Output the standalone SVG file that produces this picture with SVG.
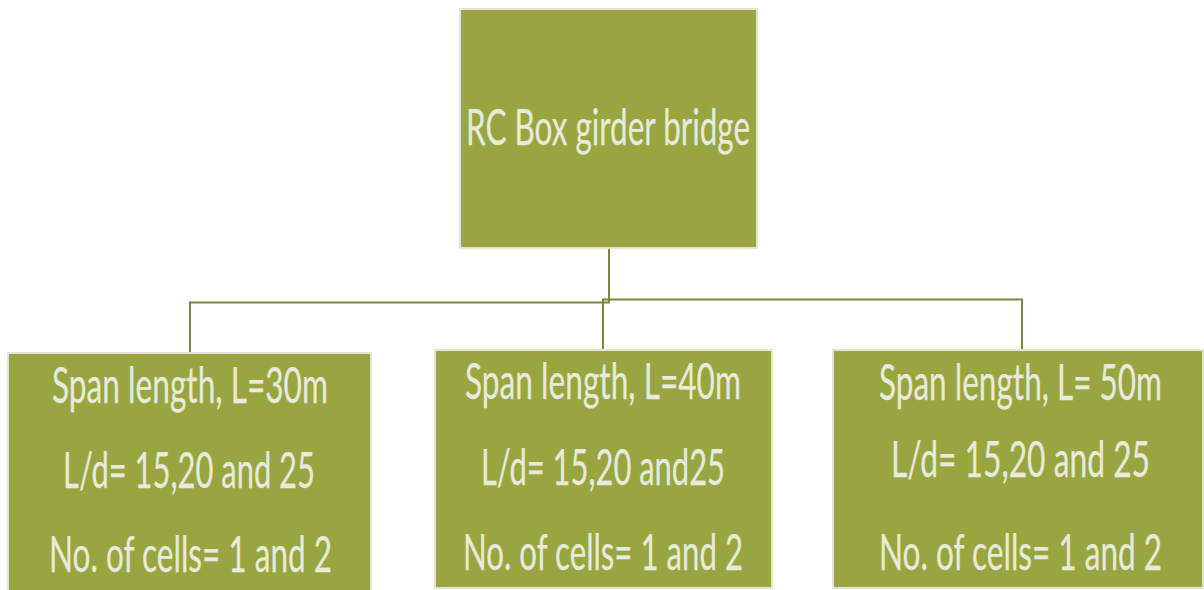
<svg xmlns="http://www.w3.org/2000/svg" width="1204" height="590" viewBox="0 0 1204 590">
<style>
.box{fill:#97a640;stroke:#e3e5d6;stroke-width:2}
.t{font-family:Lato,"Open Sans",sans-serif;font-size:51px;fill:#e8eadb;stroke:#e8eadb;stroke-width:0.25}
.c{fill:none;stroke:#77893a;stroke-width:2}
</style>
<rect width="1204" height="590" fill="#ffffff"/>
<g id="connectors">
<polyline class="c" points="609,249 609,302.5 190,302.5 190,353"/>
<polyline class="c" points="603,350 603,299.5 1022,299.5 1022,350"/>
</g>
<g id="root">
<rect class="box" x="460" y="9" width="297" height="239"/>
<text class="t" x="466" y="145" font-size="52" textLength="284" lengthAdjust="spacingAndGlyphs">RC Box girder bridge</text>
</g>
<g id="span30">
<rect class="box" x="8" y="353" width="363" height="240"/>
<text class="t" x="52" y="403" textLength="276" lengthAdjust="spacingAndGlyphs">Span length, L=30m</text>
<text class="t" x="63" y="488" textLength="252" lengthAdjust="spacingAndGlyphs">L/d= 15,20 and 25</text>
<text class="t" x="49" y="572" textLength="283" lengthAdjust="spacingAndGlyphs">No. of cells= 1 and 2</text>
</g>
<g id="span40">
<rect class="box" x="435" y="350" width="337" height="238"/>
<text class="t" x="465" y="399" textLength="276" lengthAdjust="spacingAndGlyphs">Span length, L=40m</text>
<text class="t" x="481" y="485" textLength="244" lengthAdjust="spacingAndGlyphs">L/d= 15,20 and25</text>
<text class="t" x="463" y="570" textLength="280" lengthAdjust="spacingAndGlyphs">No. of cells= 1 and 2</text>
</g>
<g id="span50">
<rect class="box" x="833" y="350" width="370" height="238"/>
<text class="t" x="879" y="400" textLength="283" lengthAdjust="spacingAndGlyphs">Span length, L= 50m</text>
<text class="t" x="891" y="477" textLength="259" lengthAdjust="spacingAndGlyphs">L/d=  15,20 and 25</text>
<text class="t" x="879" y="570" textLength="283" lengthAdjust="spacingAndGlyphs">No. of cells= 1 and 2</text>
</g>
</svg>
